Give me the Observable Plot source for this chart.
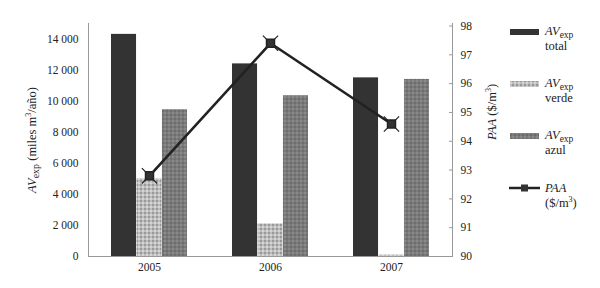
<!DOCTYPE html>
<html><head><meta charset="utf-8">
<script src="https://cdn.jsdelivr.net/npm/d3@7"></script>
<script src="https://cdn.jsdelivr.net/npm/@observablehq/plot@0.6"></script>
<style>
body{margin:0;background:#fff;}
#chart{width:600px;height:288px;}
svg{font-family:"Liberation Serif","DejaVu Serif",serif;}
</style>
</head><body><div id="chart"></div>
<script>
const years = ["2005", "2006", "2007"];
const totalValues = [14300, 12400, 11500];
const verdeValues = [5000, 2100, 100];
const azulValues = [9450, 10350, 11400];
const paaValues = [92.8, 97.4, 94.6];
const leftTicks = [0, 2000, 4000, 6000, 8000, 10000, 12000, 14000];
const rightTicks = [90, 91, 92, 93, 94, 95, 96, 97, 98];

const data = years.map((year, i) => ({year, total: totalValues[i], verde: verdeValues[i], azul: azulValues[i], paa: paaValues[i]}));

const W = 600, H = 288, mL = 88, mR = 148, mT = 23, mB = 32;
const pInner = 0.37, pOuter = 0.185;
const step = (W - mL - mR) / (years.length - pInner + 2 * pOuter);
const third = step * (1 - pInner) / 3;

const leftMax = 15000;
const toLeft = d3.scaleLinear([90, 98], [0, leftMax * (230.5 / 233)]);
const fmtLocale = d3.formatLocale({decimal: ",", thousands: " ", grouping: [3], currency: ["", ""]});
const fmtK = v => fmtLocale.format(",")(v);

const chart = Plot.plot({
  width: W, height: H,
  marginLeft: mL, marginRight: mR, marginTop: mT, marginBottom: mB,
  style: {fontFamily: "Liberation Serif, DejaVu Serif, serif", fontSize: "11.5px", color: "#222", background: "#fff"},
  x: {type: "band", domain: years, paddingInner: pInner, paddingOuter: pOuter, axis: null},
  y: {domain: [0, leftMax], axis: null},
  marks: [
    Plot.barY(data, {x: "year", y: "total", fill: "#333", insetLeft: 0, insetRight: 2 * third}),
    Plot.barY(data, {x: "year", y: "verde", fill: "url(#pverde)", insetLeft: third, insetRight: third}),
    Plot.barY(data, {x: "year", y: "azul", fill: "url(#pazul)", insetLeft: 2 * third, insetRight: 0}),
    Plot.frame({anchor: "left", stroke: "#999"}),
    Plot.frame({anchor: "right", stroke: "#999"}),
    Plot.frame({anchor: "bottom", stroke: "#999"}),
    Plot.axisY(leftTicks, {anchor: "left", tickSize: 0, tickPadding: 10, tickFormat: fmtK, label: null, fontSize: 11.5}),
    Plot.axisY(rightTicks.map(v => toLeft(v)), {anchor: "right", tickSize: -4, tickPadding: 12, stroke: "#999", tickFormat: v => String(Math.round(toLeft.invert(v))), label: null, fontSize: 11.5}),
    Plot.axisX({anchor: "bottom", tickSize: 0, tickPadding: 6, label: null, fontSize: 11.5}),
    Plot.line(data, {x: "year", y: d => toLeft(d.paa), stroke: "#222", strokeWidth: 2.6}),
    Plot.dot(data, {x: "year", y: d => toLeft(d.paa), symbol: "times", r: 7, stroke: "#222", strokeWidth: 1.2}),
    Plot.dot(data, {x: "year", y: d => toLeft(d.paa), symbol: "square", r: 4.5, fill: "#333", stroke: "#222"})
  ]
});

const svg = d3.select(chart);
const defs = svg.insert("defs", ":first-child");
const pv = defs.append("pattern").attr("id", "pverde").attr("patternUnits", "userSpaceOnUse").attr("width", 4).attr("height", 4);
pv.append("rect").attr("width", 4).attr("height", 4).attr("fill", "#bdbdbd");
pv.append("rect").attr("x", 0).attr("y", 0).attr("width", 2).attr("height", 2).attr("fill", "#999");
pv.append("rect").attr("x", 2).attr("y", 2).attr("width", 2).attr("height", 2).attr("fill", "#d4d4d4");
const pa = defs.append("pattern").attr("id", "pazul").attr("patternUnits", "userSpaceOnUse").attr("width", 4).attr("height", 4);
pa.append("rect").attr("width", 4).attr("height", 4).attr("fill", "#7a7a7a");
pa.append("rect").attr("x", 0).attr("y", 0).attr("width", 2).attr("height", 2).attr("fill", "#8a8a8a");
pa.append("rect").attr("x", 2).attr("y", 2).attr("width", 2).attr("height", 2).attr("fill", "#6e6e6e");

// axis titles
const yl = svg.append("text").attr("transform", "translate(36,140) rotate(-90)").attr("text-anchor", "middle")
  .attr("font-size", 12.5).attr("fill", "#222");
yl.append("tspan").attr("font-style", "italic").text("AV");
yl.append("tspan").attr("font-size", 10).attr("dy", 3).text("exp");
yl.append("tspan").attr("dy", -3).text(" (miles m");
yl.append("tspan").attr("font-size", 8).attr("dy", -5).text("3");
yl.append("tspan").attr("dy", 5).text("/año)");

const yr = svg.append("text").attr("transform", "translate(496,112) rotate(-90)").attr("text-anchor", "middle")
  .attr("font-size", 12.5).attr("fill", "#222");
yr.append("tspan").attr("font-style", "italic").text("PAA");
yr.append("tspan").text(" ($/m");
yr.append("tspan").attr("font-size", 8).attr("dy", -5).text("3");
yr.append("tspan").attr("dy", 5).text(")");

// legend
const lg = svg.append("g").attr("font-size", 12.5).attr("fill", "#222").attr("text-anchor", "start");
const items = [
  {fill: "#333", sub: "total", y: 32},
  {fill: "url(#pverde)", sub: "verde", y: 84},
  {fill: "url(#pazul)", sub: "azul", y: 136}
];
items.forEach(it => {
  lg.append("rect").attr("x", 510).attr("y", it.y - 3).attr("width", 29).attr("height", 6).attr("fill", it.fill);
  const t = lg.append("text").attr("x", 545).attr("y", it.y + 3);
  t.append("tspan").attr("font-style", "italic").text("AV");
  t.append("tspan").attr("font-size", 9.5).attr("dy", 2.5).text("exp");
  lg.append("text").attr("x", 545).attr("y", it.y + 18).text(it.sub);
});
lg.append("line").attr("x1", 509).attr("x2", 540).attr("y1", 188).attr("y2", 188).attr("stroke", "#222").attr("stroke-width", 2.5);
lg.append("rect").attr("x", 521).attr("y", 184.5).attr("width", 7).attr("height", 7).attr("fill", "#333");
const tp = lg.append("text").attr("x", 545).attr("y", 192);
tp.append("tspan").attr("font-style", "italic").text("PAA");
const tp2 = lg.append("text").attr("x", 545).attr("y", 207);
tp2.append("tspan").text("($/m");
tp2.append("tspan").attr("font-size", 8).attr("dy", -5).text("3");
tp2.append("tspan").attr("dy", 5).text(")");

document.getElementById("chart").appendChild(chart);
</script>
</body></html>
